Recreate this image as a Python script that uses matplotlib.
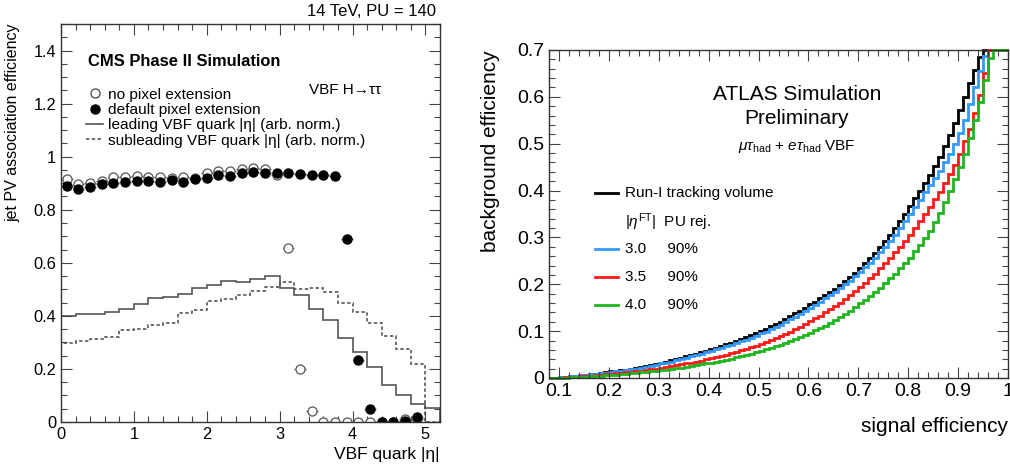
import numpy as np
import matplotlib
matplotlib.use("Agg")
import matplotlib.pyplot as plt
from matplotlib.ticker import MultipleLocator, FuncFormatter
from matplotlib.lines import Line2D

plt.rcParams['font.family'] = ['Liberation Sans', 'DejaVu Sans']
plt.rcParams['mathtext.fontset'] = 'custom'
plt.rcParams['mathtext.rm'] = 'Liberation Sans'
plt.rcParams['mathtext.it'] = 'Liberation Sans:italic'

# ---- left panel data (CMS) ----
eta_open = np.round(0.08 + 0.16 * np.arange(31), 2)
eff_open = [0.916, 0.896, 0.902, 0.909, 0.922, 0.922, 0.927, 0.925, 0.925, 0.920,
            0.922, 0.918, 0.937, 0.946, 0.946, 0.952, 0.956, 0.952, 0.931, 0.655,
            0.200, 0.040, 0.0, 0.0, 0.0, 0.0, 0.0, 0.0, 0.0, 0.010, 0.010]
eta_fill = eta_open
eff_fill = [0.889, 0.880, 0.887, 0.896, 0.900, 0.903, 0.908, 0.909, 0.906, 0.911,
            0.903, 0.914, 0.920, 0.931, 0.928, 0.937, 0.941, 0.940, 0.940, 0.937,
            0.936, 0.930, 0.932, 0.928, 0.690, 0.233, 0.050, 0.0, 0.0, 0.005, 0.017]

eta_edges = np.round(np.arange(27) * 0.2, 2)
lead_hist = [0.400, 0.406, 0.406, 0.415, 0.425, 0.443, 0.466, 0.472, 0.481, 0.506,
             0.515, 0.531, 0.529, 0.540, 0.550, 0.506, 0.477, 0.426, 0.386, 0.318,
             0.262, 0.208, 0.139, 0.103, 0.069, 0.053]
sublead_hist = [0.298, 0.304, 0.312, 0.321, 0.346, 0.350, 0.365, 0.374, 0.409, 0.421,
                0.455, 0.462, 0.478, 0.493, 0.510, 0.526, 0.500, 0.506, 0.491, 0.447,
                0.415, 0.374, 0.325, 0.277, 0.220, 0.0]

# ---- right panel data (ATLAS ROC) ----
sig_edges = np.round(np.arange(0.08, 1.0001, 0.01), 2)
bkg_run1 = [0.000, 0.001, 0.002, 0.003, 0.004, 0.005, 0.006, 0.007, 0.008, 0.009,
            0.011, 0.012, 0.014, 0.015, 0.017, 0.018, 0.020, 0.022, 0.024, 0.026,
            0.028, 0.030, 0.033, 0.035, 0.038, 0.040, 0.043, 0.046, 0.049, 0.052,
            0.055, 0.058, 0.062, 0.065, 0.068, 0.072, 0.075, 0.079, 0.083, 0.087,
            0.091, 0.095, 0.100, 0.105, 0.110, 0.115, 0.120, 0.126, 0.132, 0.138,
            0.144, 0.150, 0.157, 0.163, 0.170, 0.177, 0.184, 0.191, 0.199, 0.207,
            0.216, 0.225, 0.235, 0.245, 0.256, 0.267, 0.279, 0.292, 0.306, 0.320,
            0.335, 0.351, 0.368, 0.384, 0.400, 0.416, 0.433, 0.452, 0.472, 0.495,
            0.518, 0.545, 0.572, 0.600, 0.630, 0.658, 0.685, 0.700, 0.700, 0.700,
            0.700, 0.700]
bkg_30 = [0.000, 0.001, 0.002, 0.003, 0.004, 0.005, 0.006, 0.007, 0.008, 0.009,
          0.010, 0.011, 0.013, 0.014, 0.016, 0.017, 0.019, 0.020, 0.022, 0.024,
          0.026, 0.028, 0.031, 0.033, 0.035, 0.038, 0.040, 0.043, 0.046, 0.049,
          0.052, 0.055, 0.058, 0.061, 0.064, 0.068, 0.071, 0.075, 0.078, 0.082,
          0.086, 0.090, 0.095, 0.099, 0.104, 0.109, 0.114, 0.120, 0.125, 0.131,
          0.137, 0.143, 0.150, 0.156, 0.163, 0.170, 0.177, 0.184, 0.192, 0.200,
          0.208, 0.217, 0.226, 0.236, 0.246, 0.257, 0.268, 0.280, 0.293, 0.306,
          0.320, 0.335, 0.350, 0.366, 0.380, 0.396, 0.412, 0.426, 0.442, 0.460,
          0.478, 0.500, 0.522, 0.550, 0.585, 0.620, 0.655, 0.688, 0.700, 0.700,
          0.700, 0.700]
bkg_35 = [0.000, 0.001, 0.001, 0.002, 0.002, 0.003, 0.004, 0.004, 0.005, 0.006,
          0.007, 0.008, 0.009, 0.010, 0.011, 0.012, 0.013, 0.014, 0.016, 0.017,
          0.019, 0.020, 0.022, 0.023, 0.025, 0.027, 0.029, 0.031, 0.033, 0.035,
          0.037, 0.040, 0.042, 0.045, 0.047, 0.050, 0.053, 0.056, 0.059, 0.062,
          0.066, 0.069, 0.073, 0.077, 0.081, 0.085, 0.089, 0.094, 0.099, 0.104,
          0.109, 0.115, 0.121, 0.127, 0.133, 0.140, 0.147, 0.154, 0.161, 0.169,
          0.177, 0.185, 0.194, 0.203, 0.213, 0.223, 0.234, 0.245, 0.256, 0.268,
          0.280, 0.293, 0.306, 0.320, 0.335, 0.350, 0.366, 0.382, 0.398, 0.416,
          0.435, 0.455, 0.478, 0.505, 0.532, 0.565, 0.605, 0.650, 0.700, 0.700,
          0.700, 0.700]
bkg_40 = [0.000, 0.000, 0.001, 0.001, 0.002, 0.002, 0.003, 0.003, 0.004, 0.004,
          0.005, 0.006, 0.006, 0.007, 0.008, 0.009, 0.010, 0.011, 0.012, 0.013,
          0.015, 0.016, 0.017, 0.018, 0.020, 0.021, 0.022, 0.024, 0.026, 0.027,
          0.029, 0.031, 0.033, 0.035, 0.037, 0.039, 0.041, 0.044, 0.046, 0.049,
          0.052, 0.055, 0.058, 0.061, 0.064, 0.068, 0.071, 0.075, 0.079, 0.083,
          0.088, 0.092, 0.097, 0.102, 0.107, 0.112, 0.118, 0.124, 0.130, 0.137,
          0.144, 0.151, 0.159, 0.167, 0.175, 0.184, 0.193, 0.203, 0.213, 0.223,
          0.234, 0.245, 0.257, 0.270, 0.284, 0.298, 0.314, 0.332, 0.352, 0.375,
          0.400, 0.425, 0.450, 0.478, 0.512, 0.550, 0.590, 0.637, 0.683, 0.700,
          0.700, 0.700]

roc_labels = ['Run-I tracking volume', '3.0     90%', '3.5     90%', '4.0     90%']
roc_colors = ['black', '#3399ff', '#ff1a1a', '#1fb51f']

fig = plt.figure(figsize=(10.1, 4.67), dpi=100)
fmt = FuncFormatter(lambda v, p: '%g' % round(v, 3))


def root_style(ax, xmaj, xmin, ymaj, ymin, size):
    ax.xaxis.set_major_locator(MultipleLocator(xmaj))
    ax.xaxis.set_minor_locator(MultipleLocator(xmin))
    ax.yaxis.set_major_locator(MultipleLocator(ymaj))
    ax.yaxis.set_minor_locator(MultipleLocator(ymin))
    ax.xaxis.set_major_formatter(fmt)
    ax.yaxis.set_major_formatter(fmt)
    ax.tick_params(which='both', direction='in', top=True, right=True,
                   labelsize=size, width=0.8, color='#444444')
    ax.tick_params(which='major', length=8)
    ax.tick_params(which='minor', length=4)
    for s in ax.spines.values():
        s.set_linewidth(1.0)
        s.set_color('#333333')


# ---------- left ----------
axL = fig.add_axes([61 / 1010, 45 / 467, 379 / 1010, 398 / 467])
axL.stairs(lead_hist, eta_edges, color='#555555', lw=1.2)
axL.stairs(sublead_hist, eta_edges, color='#555555', lw=1.2, ls=(0, (2, 1.5)))
axL.errorbar(eta_open, eff_open, xerr=0.08, fmt='o', ms=6.5, mfc='white',
             mec='#555555', mew=0.9, ecolor='#666666', elinewidth=1.0, capsize=0)
axL.errorbar(eta_fill, eff_fill, xerr=0.08, fmt='o', ms=6.5, mfc='black',
             mec='black', ecolor='#666666', elinewidth=1.0, capsize=0)
axL.set_xlim(0, 5.2)
axL.set_ylim(0, 1.5)
root_style(axL, 1, 0.2, 0.2, 0.05, 11.8)
axL.set_ylabel('jet PV association efficiency', fontsize=11.5, loc='top', labelpad=9)
axL.set_xlabel('VBF quark |η|', fontsize=12.5, loc='right', labelpad=4)
fig.text(436 / 1010, 1 - 12 / 467, '14 TeV, PU = 140', ha='right', va='center', fontsize=12)
axL.text(0.07, 0.905, 'CMS Phase II Simulation', transform=axL.transAxes,
         fontsize=11.9, fontweight='bold', va='center')
axL.text(0.655, 0.834, 'VBF H→ττ', transform=axL.transAxes, fontsize=11, va='center')

handles = [Line2D([], [], ls='none', marker='o', ms=6.5, mfc='white', mec='#555555'),
           Line2D([], [], ls='none', marker='o', ms=6.5, mfc='black', mec='black'),
           Line2D([], [], color='#555555', lw=1.2),
           Line2D([], [], color='#555555', lw=1.2, ls=(0, (2, 1.5)))]
labels = ['no pixel extension', 'default pixel extension',
          'leading VBF quark |η| (arb. norm.)', 'subleading VBF quark |η| (arb. norm.)']
axL.legend(handles, labels, loc='upper left', bbox_to_anchor=(0.05, 0.855),
           frameon=False, fontsize=11.1, handlelength=1.1, handletextpad=0.3,
           labelspacing=0.08, borderaxespad=0)

# ---------- right ----------
axR = fig.add_axes([549 / 1010, 89 / 467, 459 / 1010, 328 / 467])
for vals, c, lab in zip([bkg_run1, bkg_30, bkg_35, bkg_40], roc_colors, roc_labels):
    axR.stairs(vals, sig_edges, color=c, lw=2, label=lab, clip_on=False, baseline=None)
axR.set_xlim(0.08, 1.0)
axR.set_ylim(0, 0.7)
root_style(axR, 0.1, 0.02, 0.1, 0.02, 14)
axR.set_ylabel('background efficiency', fontsize=15, loc='top', labelpad=12)
axR.set_xlabel('signal efficiency', fontsize=15, loc='right', labelpad=12)

axR.text(0.54, 0.865, 'ATLAS Simulation', transform=axR.transAxes, fontsize=15,
         ha='center', va='center')
axR.text(0.54, 0.79, 'Preliminary', transform=axR.transAxes, fontsize=15,
         ha='center', va='center')
axR.text(0.54, 0.705, r'$\mu\tau_{\rm had}$ + $e\tau_{\rm had}$ VBF',
         transform=axR.transAxes, fontsize=11, ha='center', va='center')

lx0, lx1, tx = 0.1, 0.15, 0.165
rows_y = [0.564, 0.393, 0.308, 0.223]
axR.plot([lx0, lx1], [rows_y[0]] * 2, transform=axR.transAxes, color=roc_colors[0], lw=2)
axR.text(tx, rows_y[0], roc_labels[0], transform=axR.transAxes, fontsize=11, va='center')
axR.text(tx, 0.476, r'$|\eta^{\rm FT}|$  PU rej.', transform=axR.transAxes,
         fontsize=11, va='center')
for yy, c, lab in zip(rows_y[1:], roc_colors[1:], roc_labels[1:]):
    axR.plot([lx0, lx1], [yy, yy], transform=axR.transAxes, color=c, lw=2)
    axR.text(tx, yy, lab, transform=axR.transAxes, fontsize=11, va='center')

fig.savefig('out.png', dpi=100)
